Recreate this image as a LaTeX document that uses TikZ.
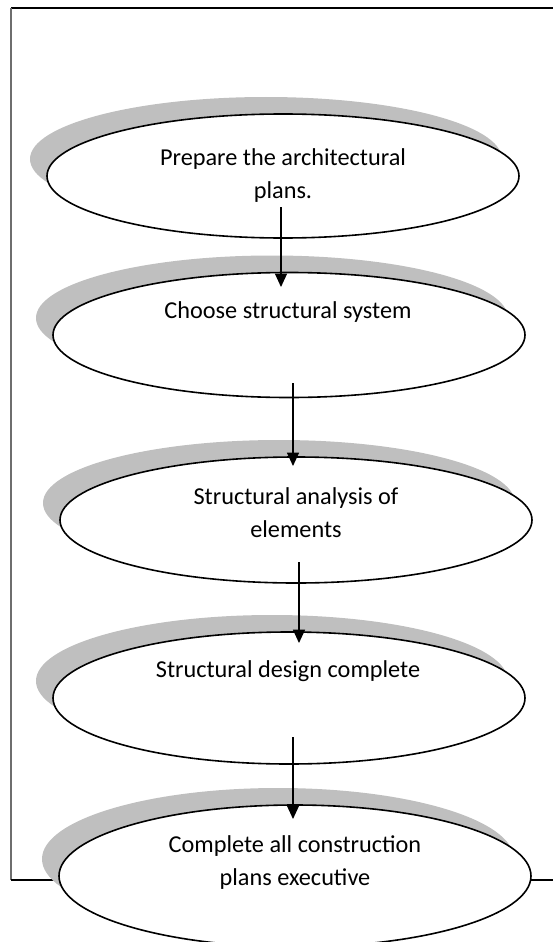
\documentclass[tikz,border=0pt]{standalone}
\usepackage{fontspec}
\setmainfont{Carlito}
\usetikzlibrary{shapes.geometric,arrows.meta,shadows}
\definecolor{shadowgray}{RGB}{191,191,191}
\definecolor{framegray}{RGB}{110,110,110}
\begin{document}
\begin{tikzpicture}[x=0.75pt,y=-0.75pt,
  stepshape/.style={ellipse,draw=black,line width=1.2pt,fill=white,
    minimum width=354pt,minimum height=#1,inner sep=0pt,outer sep=0pt,
    general shadow={shadow xshift=-12.75pt,shadow yshift=12.75pt,fill=shadowgray,draw=none}},
  steptext/.style={anchor=base,align=center,inner sep=0pt,
    font=\fontsize{18.2}{24.75}\selectfont},
  flow/.style={line width=0.9pt,-{Triangle[width=9pt,length=10pt]}},
  framebar/.style={line width=0.8pt}]
\useasboundingbox (0,0) rectangle (553,942);
% frame
\coordinate (ftl) at (11,8);
\coordinate (ftr) at (553,8);
\coordinate (fbl) at (11,880);
\coordinate (fbr) at (553,880);
\draw[framebar] (ftl) -- (ftr);
\draw[framebar,draw=framegray] (ftl) -- (fbl);
\draw[framebar] (fbl) -- (fbr);
% ellipses
\node[stepshape=93pt]    (e1) at (283,176) {};
\node[stepshape=93.75pt] (e2) at (289,335) {};
\node[stepshape=94.5pt]  (e3) at (296,520) {};
\node[stepshape=99pt]    (e4) at (289,698) {};
\node[stepshape=106.5pt] (e5) at (295,876) {};
% texts (base anchor = baseline of the last line)
\node[steptext] (t1) at (283,198) {Prepare the architectural\\plans.};
\node[steptext] (t2) at (288,318) {Choose structural system};
\node[steptext] (t3) at (296,537) {Structural analysis of\\elements};
\node[steptext] (t4) at (288,677) {Structural design complete};
\node[steptext] (t5) at (295,885) {Complete all construction\\plans executive};
% arrows
\coordinate (a1s) at (281,207); \coordinate (a1e) at (281,287);
\coordinate (a2s) at (293,383); \coordinate (a2e) at (293,466);
\coordinate (a3s) at (299,562); \coordinate (a3e) at (299,643);
\coordinate (a4s) at (293,737); \coordinate (a4e) at (293,819);
\draw[flow] (a1s) -- (a1e);
\draw[flow] (a2s) -- (a2e);
\draw[flow] (a3s) -- (a3e);
\draw[flow] (a4s) -- (a4e);
\end{tikzpicture}
\end{document}
